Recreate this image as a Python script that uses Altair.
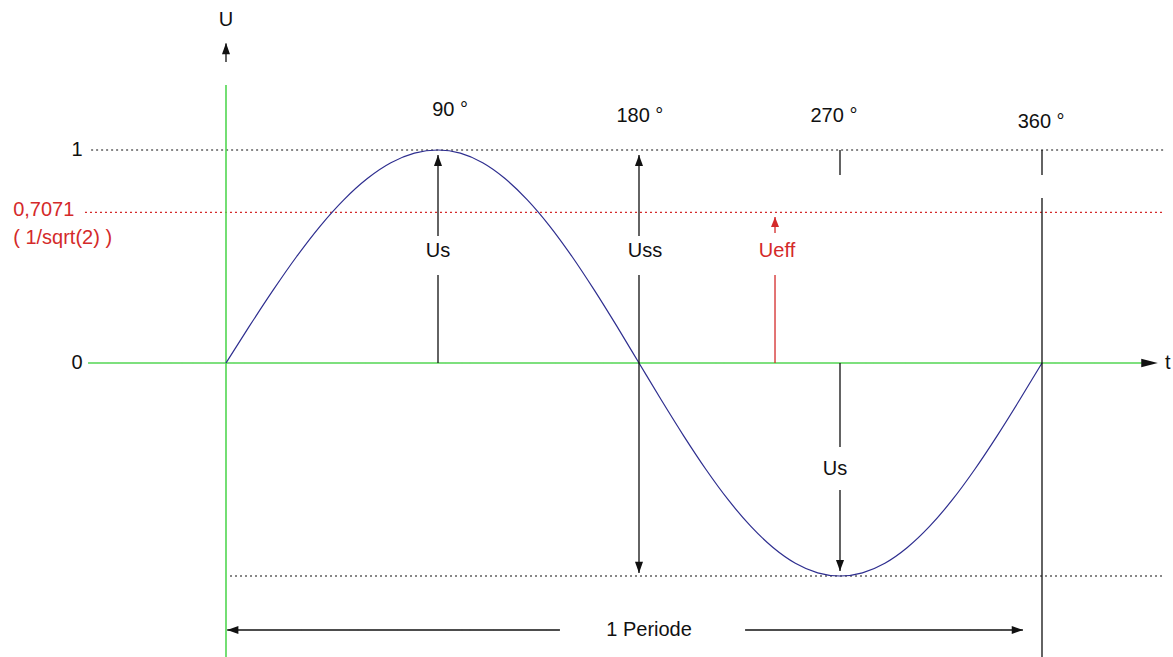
import altair as alt
import pandas as pd

# ---- data -------------------------------------------------------------
# sine curve samples: phase (degrees) and voltage U
phase = list(range(0, 361, 10))
u_vals = [0.000, 0.174, 0.342, 0.500, 0.643, 0.766, 0.866, 0.940, 0.985, 1.000,
          0.985, 0.940, 0.866, 0.766, 0.643, 0.500, 0.342, 0.174, 0.000,
          -0.174, -0.342, -0.500, -0.643, -0.766, -0.866, -0.940, -0.985, -1.000,
          -0.985, -0.940, -0.866, -0.766, -0.643, -0.500, -0.342, -0.174, 0.000]

u_peak = 1.0
u_eff = 0.7071

deg_labels = ["90 °", "180 °", "270 °", "360 °"]
deg_label_x = [95.4, 180.4, 267.3, 359.6]
deg_label_y = [1.188, 1.160, 1.160, 1.131]

# annotation segments: x, x2, U, U2, kind
seg_x = [-57.3, -59.9, 1.7, -58.6, 0, 0, 90, 90, 180, 180, 240.9, 240.9,
         270, 270, 270, 360, 360, 0.5, 227.5]
seg_x2 = [414.8, 413.9, 413.9, 404.5, 0, 0, 90, 90, 180, 180, 240.9, 240.9,
          270, 270, 270, 360, 360, 144.6, 351.5]
seg_y = [1.0, u_eff, -1.0, 0.0, 1.305, 1.413, 0.596, 0.0, 0.596, 0.413, 0.61, 0.0,
         1.0, 0.0, -0.596, 1.0, 0.775, -1.2535, -1.2535]
seg_y2 = [1.0, u_eff, -1.0, 0.0, -1.45, 1.50, 0.977, 0.413, 0.977, -0.986, 0.685, 0.413,
          0.883, -0.394, -0.977, 0.883, -1.45, -1.2535, -1.2535]
seg_kind = ["dot", "dotred", "dot", "axis", "axis", "line", "line", "line", "line", "line",
            "linered", "linered", "line", "line", "line", "line", "line", "line", "line"]

# arrow heads: x, U, direction, kind
head_x = [0, 90, 180, 180, 240.9, 270, 411.6, 0.5, 351.5]
head_y = [1.502, 0.977, 0.977, -0.986, 0.685, -0.977, 0.0, -1.2535, -1.2535]
head_dir = ["up", "up", "up", "down", "upsmall", "down", "long", "left", "right"]
head_kind = ["line", "line", "line", "line", "linered", "line", "line", "line", "line"]

# centred texts
txt = ["U", "1", "0", "Us", "Uss", "Ueff", "Us", "t", "1 Periode"] + deg_labels
txt_x = [0, -63.3, -63.3, 90, 182.7, 241.8, 267.8, 416.1, 184.5] + deg_label_x
txt_y = [1.610, 1.0, 0.0, 0.526, 0.526, 0.526, -0.498, 0.0, -1.2535] + deg_label_y
txt_kind = ["k", "k", "k", "k", "k", "r", "k", "k", "k", "k", "k", "k", "k"]

# left-aligned texts
ltxt = ["0,7071", "( 1/sqrt(2) )"]
ltxt_x = [-90.4, -90.4]
ltxt_y = [0.718, 0.587]

# ---- styling ----------------------------------------------------------
GREEN = "#52d652"
RED = "#d42a2a"
BLACK = "#111111"
BLUE = "#2e2e8f"
FONT = "Liberation Sans"

W, H = 1173, 657
xscale = alt.Scale(domain=[-96, 0, 90, 180, 270, 360, 418.37],
                   range=[0, 226, 438, 639, 840, 1042, 1173], nice=False, zero=False)
yscale = alt.Scale(domain=[-1.3803, 1.7042], range=[H, 0], nice=False, zero=False)

X = lambda f: alt.X(f"{f}:Q", scale=xscale, axis=None)
Y = lambda f: alt.Y(f"{f}:Q", scale=yscale, axis=None)

kind_color = {"dot": BLACK, "dotred": RED, "axis": GREEN, "line": BLACK, "linered": RED}
kind_dash = {"dot": [2, 3], "dotred": [2, 3], "axis": [1, 0], "line": [1, 0], "linered": [1, 0]}
kind_width = {"dot": 1.1, "dotred": 1.1, "axis": 1.6, "line": 1.3, "linered": 1.3}

seg_df = pd.DataFrame(dict(x=seg_x, x2=seg_x2, y=seg_y, y2=seg_y2, kind=seg_kind))
seg_df["col"] = seg_df["kind"].map(kind_color)
layers = []
for k in ["dot", "dotred", "axis", "line", "linered"]:
    sub = seg_df[seg_df["kind"] == k]
    layers.append(
        alt.Chart(sub).mark_rule(strokeDash=kind_dash[k], strokeWidth=kind_width[k]).encode(
            x=X("x"), x2="x2", y=Y("y"), y2="y2",
            color=alt.Color("col:N", scale=None),
        )
    )

curve_df = pd.DataFrame(dict(x=phase, y=u_vals))
curve = alt.Chart(curve_df).mark_line(color=BLUE, strokeWidth=1.2, interpolate="monotone").encode(
    x=X("x"), y=Y("y")
)
layers.insert(3, curve)

shapes = {
    "up": ("M0,0L0.36,1L-0.36,1Z", 500),
    "upsmall": ("M0,0L0.4,1L-0.4,1Z", 400),
    "down": ("M0,0L0.36,-1L-0.36,-1Z", 500),
    "right": ("M0,0L-1,0.36L-1,-0.36Z", 500),
    "long": ("M0,0L-1,0.25L-1,-0.25Z", 1100),
    "left": ("M0,0L1,0.36L1,-0.36Z", 500),
}
head_df = pd.DataFrame(dict(x=head_x, y=head_y, dir=head_dir, kind=head_kind))
head_df["col"] = head_df["kind"].map(kind_color)
for d, (path, sz) in shapes.items():
    sub = head_df[head_df["dir"] == d]
    layers.append(
        alt.Chart(sub).mark_point(shape=path, size=sz, filled=True, opacity=1, strokeWidth=0).encode(
            x=X("x"), y=Y("y"), color=alt.Color("col:N", scale=None),
        )
    )

txt_df = pd.DataFrame(dict(x=txt_x, y=txt_y, t=txt, k=txt_kind))
txt_df["col"] = txt_df["k"].map({"k": BLACK, "r": RED})
layers.append(
    alt.Chart(txt_df).mark_text(font=FONT, fontSize=20, align="center", baseline="middle").encode(
        x=X("x"), y=Y("y"), text="t:N", color=alt.Color("col:N", scale=None),
    )
)

ltxt_df = pd.DataFrame(dict(x=ltxt_x, y=ltxt_y, t=ltxt))
layers.append(
    alt.Chart(ltxt_df).mark_text(font=FONT, fontSize=20, align="left", baseline="middle", color=RED).encode(
        x=X("x"), y=Y("y"), text="t:N",
    )
)

chart = alt.layer(*layers).properties(
    width=W, height=H, padding=0, background="white",
    autosize=alt.AutoSizeParams(type="none"),
).configure_view(stroke=None)

chart.save("out.html", embed_options={"renderer": "svg", "actions": False})
